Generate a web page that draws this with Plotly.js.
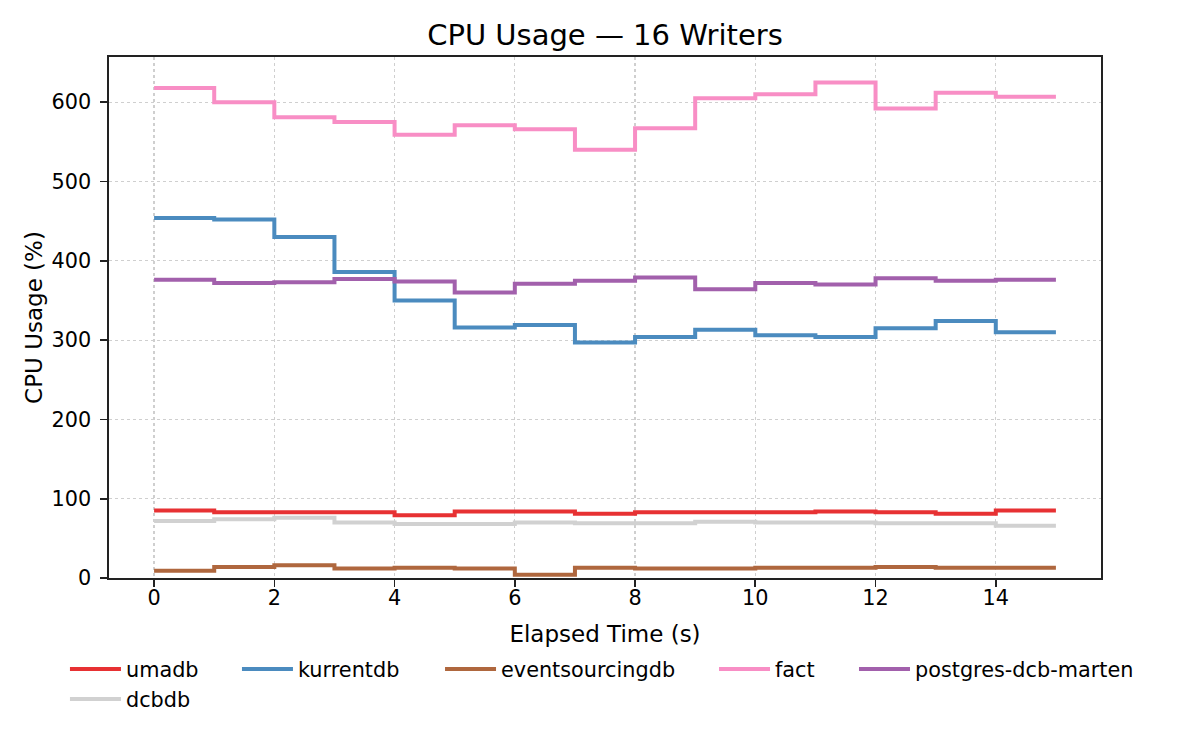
<!DOCTYPE html>
<html>
<head>
<meta charset="utf-8">
<script src="https://cdn.plot.ly/plotly-3.0.1.min.js"></script>
<style>
  html, body { margin: 0; padding: 0; background: #fff; }
  #chart { width: 1200px; height: 750px; }
</style>
</head>
<body>
<div id="chart"></div>
<script>
// Elapsed time samples (s)
const seconds = [0, 1, 2, 3, 4, 5, 6, 7, 8, 9, 10, 11, 12, 13, 14, 15];

// CPU usage (%) per system, one value per second
const umadb = [85, 83, 83, 83, 79, 84, 84, 81, 83, 83, 83, 84, 83, 81, 85, 85];
const kurrentdb = [454, 452, 430, 386, 350, 316, 319, 297, 304, 313, 306, 304, 315, 324, 310, 310];
const eventsourcingdb = [9, 14, 16, 12, 13, 12, 4, 13, 12, 12, 13, 13, 14, 13, 13, 13];
const fact = [618, 600, 581, 575, 559, 571, 566, 540, 567, 605, 610, 625, 592, 612, 607, 607];
const postgresDcbMarten = [376, 372, 373, 377, 374, 360, 371, 375, 379, 364, 372, 370, 378, 375, 376, 376];
const dcbdb = [72, 74, 76, 70, 68, 68, 70, 69, 69, 71, 70, 70, 69, 69, 66, 66];

const xTicks = [0, 2, 4, 6, 8, 10, 12, 14];
const yTicks = [0, 100, 200, 300, 400, 500, 600];

const FONT = 'DejaVu Sans, sans-serif';

function stepTrace(name, values, color, legendId) {
  return {
    x: seconds,
    y: values,
    name: name,
    type: 'scatter',
    mode: 'lines',
    line: { shape: 'hv', color: color, width: 4 },
    legend: legendId,
  };
}

var data = [
  stepTrace('umadb', umadb, '#e73133', 'legend'),
  stepTrace('kurrentdb', kurrentdb, '#4b8bbf', 'legend2'),
  stepTrace('eventsourcingdb', eventsourcingdb, '#af673e', 'legend3'),
  stepTrace('fact', fact, '#f88ec5', 'legend4'),
  stepTrace('postgres-dcb-marten', postgresDcbMarten, '#a260ac', 'legend5'),
  stepTrace('dcbdb', dcbdb, '#d1d1d1', 'legend'),
];

// one legend per matplotlib-style column
function legendAt(x) {
  return {
    x: x,
    y: -0.136,
    xref: 'paper',
    yref: 'paper',
    xanchor: 'left',
    yanchor: 'top',
    orientation: 'v',
    bgcolor: 'rgba(0,0,0,0)',
    font: { family: FONT, size: 20.8, color: '#000' },
    itemwidth: 51,
    traceorder: 'normal',
  };
}

var axisCommon = {
  showline: true,
  mirror: true,
  linecolor: '#222',
  linewidth: 1.6,
  ticks: 'outside',
  ticklen: 7,
  tickwidth: 1.6,
  tickcolor: '#222',
  showgrid: true,
  gridcolor: '#cfcfcf',
  gridwidth: 1.2,
  griddash: 'dot',
  zeroline: false,
  tickfont: { family: FONT, size: 20.8, color: '#000' },
};

var layout = {
  width: 1200,
  height: 750,
  paper_bgcolor: '#fff',
  plot_bgcolor: '#fff',
  margin: { l: 109, r: 99, t: 57, b: 172 },
  font: { family: FONT, color: '#000' },
  title: {
    text: 'CPU Usage — 16 Writers',
    font: { family: FONT, size: 29, color: '#000' },
    x: 0.5,
    xref: 'paper',
    y: 1 - 35 / 750,
    yref: 'container',
    yanchor: 'middle',
  },
  xaxis: Object.assign({}, axisCommon, {
    range: [-0.75, 15.75],
    tickvals: xTicks,
    ticklabelstandoff: -7,
    title: { text: 'Elapsed Time (s)', font: { family: FONT, size: 23 }, standoff: 17 },
  }),
  yaxis: Object.assign({}, axisCommon, {
    range: [0, 657],
    tickvals: yTicks,
    ticklabelstandoff: 5,
    title: { text: 'CPU Usage (%)', font: { family: FONT, size: 23 }, standoff: 2 },
  }),
  showlegend: true,
  legend: legendAt(-0.0444),
  legend2: legendAt(0.129),
  legend3: legendAt(0.3337),
  legend4: legendAt(0.6099),
  legend5: legendAt(0.751),
};

Plotly.newPlot('chart', data, layout, { staticPlot: true });
</script>
</body>
</html>
